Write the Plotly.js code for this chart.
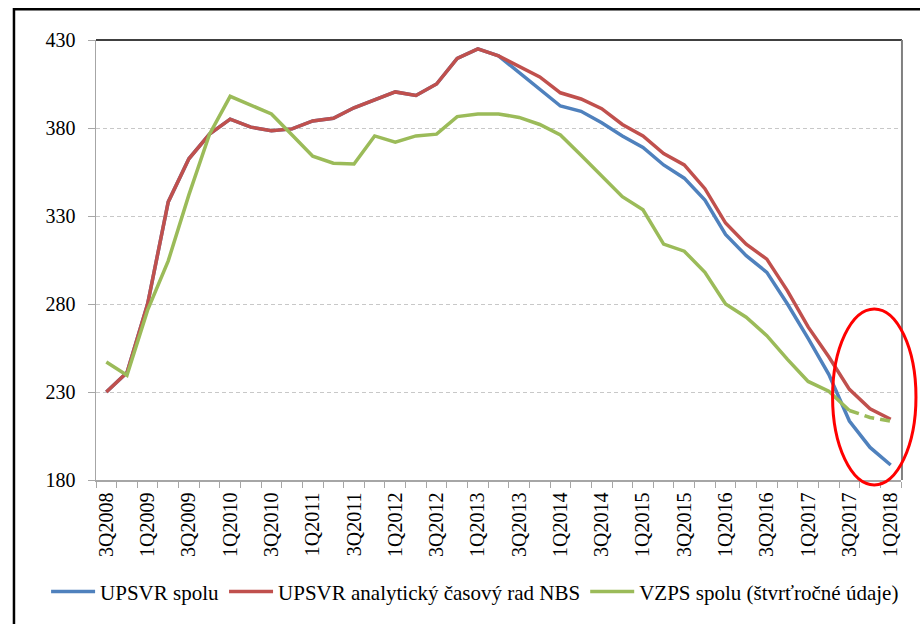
<!DOCTYPE html>
<html>
<head>
<meta charset="utf-8">
<script src="https://cdn.plot.ly/plotly-3.0.1.min.js"></script>
<style>
html,body{margin:0;padding:0;background:#fff;}
#chart{width:920px;height:624px;}
</style>
</head>
<body>
<div id="chart"></div>
<script>
var quarters = ["3Q2008","4Q2008","1Q2009","2Q2009","3Q2009","4Q2009","1Q2010","2Q2010","3Q2010","4Q2010",
  "1Q2011","2Q2011","3Q2011","4Q2011","1Q2012","2Q2012","3Q2012","4Q2012","1Q2013","2Q2013",
  "3Q2013","4Q2013","1Q2014","2Q2014","3Q2014","4Q2014","1Q2015","2Q2015","3Q2015","4Q2015",
  "1Q2016","2Q2016","3Q2016","4Q2016","1Q2017","2Q2017","3Q2017","4Q2017","1Q2018"];

var upsvrSpolu = [230,241,280,338,362.5,376.5,385,380.5,378.5,379.5,
  384,385.5,391.5,396,400.5,398.5,405,419.5,425,421,
  411.5,402,392.5,389.5,383,375.5,369,359,351.5,339,
  319.5,307.5,298,280,260.5,240,213.5,198.5,188.5];

var upsvrNBS = [230,241,280,338,362.5,376.5,385,380.5,378.5,379.5,
  384,385.5,391.5,396,400.5,398.5,405,419.5,425,421,
  415,409,400,396.5,391,382,375.5,365.5,359,345.5,
  326,314,305.5,287.5,267,250,231.5,220.5,214.5];

var vzps = [247,239.5,276.5,304.5,342,376.5,398,393,388,376,
  364,360,359.5,375.5,372,375.5,376.5,386.5,388,388,
  386,382,376,364.5,352.5,341,333.5,314,310,298,
  280,272.5,262,248.5,236,230.5,219.5,215.5,213.5];

var seriesNames = ["UPSVR spolu","UPSVR analytický časový rad NBS","VZPS spolu (štvrťročné údaje)"];
var seriesColors = ["#4F81BD","#C0504D","#9BBB59"];
var dashedFrom = 36; // VZPS: last quarters drawn dashed

var tickText = quarters.map(function(q,i){ return i % 2 === 0 ? q : ""; });

var serif = "'Liberation Serif', 'Times New Roman', serif";

var traces = [
  {x: quarters, y: upsvrSpolu, name: seriesNames[0], type: "scatter", mode: "lines",
   line: {color: seriesColors[0], width: 3.5}},
  {x: quarters, y: upsvrNBS, name: seriesNames[1], type: "scatter", mode: "lines",
   line: {color: seriesColors[1], width: 3.5}},
  {x: quarters.slice(0, dashedFrom + 1), y: vzps.slice(0, dashedFrom + 1), name: seriesNames[2],
   type: "scatter", mode: "lines", line: {color: seriesColors[2], width: 3.5}},
  {x: quarters.slice(dashedFrom), y: vzps.slice(dashedFrom), name: seriesNames[2], showlegend: false,
   type: "scatter", mode: "lines", line: {color: seriesColors[2], width: 3.5, dash: "10px,6px"}}
];

var layout = {
  width: 920, height: 624,
  margin: {l: 96, r: 19, t: 40, b: 139},
  paper_bgcolor: "#fff", plot_bgcolor: "#fff",
  showlegend: true,
  font: {family: serif, color: "#000", size: 19},
  xaxis: {
    type: "category", range: [-0.5, 38.5],
    tickmode: "array", tickvals: quarters, ticktext: tickText,
    tickson: "boundaries", ticks: "outside", ticklen: 6, tickcolor: "#a6a6a6", tickwidth: 1,
    tickangle: -90, tickfont: {family: serif, size: 20, color: "#000"},
    ticklabelstandoff: 3,
    showline: true, linecolor: "#a6a6a6", linewidth: 1.5,
    showgrid: false, zeroline: false, fixedrange: true
  },
  yaxis: {
    range: [180, 430], tickmode: "linear", tick0: 180, dtick: 50,
    ticks: "outside", ticklen: 7, tickcolor: "#a6a6a6", tickwidth: 1,
    tickfont: {family: serif, size: 20, color: "#000"},
    ticklabelstandoff: 8,
    showline: true, linecolor: "#a6a6a6", linewidth: 1.5,
    showgrid: true, gridcolor: "#c8c8c8", griddash: "4px,3px", gridwidth: 1,
    zeroline: false, fixedrange: true
  },
  legend: {
    orientation: "h", x: -0.062, xanchor: "left", y: -0.254, yanchor: "middle",
    font: {family: serif, size: 21, color: "#000"},
    bgcolor: "rgba(0,0,0,0)", itemwidth: 44, traceorder: "normal"
  },
  shapes: [
    {type: "line", xref: "paper", yref: "paper", x0: 0, x1: 1.0012, y0: 1, y1: 1,
     line: {color: "#000", width: 1.5}},
    {type: "line", xref: "paper", yref: "paper", x0: 1.0012, x1: 1.0012, y0: 0, y1: 1,
     line: {color: "#808080", width: 2}},
    {type: "rect", xref: "paper", yref: "paper", x0: -0.1019, x1: 1.05, y0: -0.33, y1: 1.0697,
     line: {color: "#000", width: 2.5}, fillcolor: "rgba(0,0,0,0)"},
    {type: "circle", xref: "paper", yref: "paper", x0: 0.915, x1: 1.0186, y0: -0.0112, y1: 0.3888,
     line: {color: "#FF0000", width: 3}, fillcolor: "rgba(0,0,0,0)"}
  ]
};

Plotly.newPlot("chart", traces, layout, {staticPlot: true, displayModeBar: false});
</script>
</body>
</html>
